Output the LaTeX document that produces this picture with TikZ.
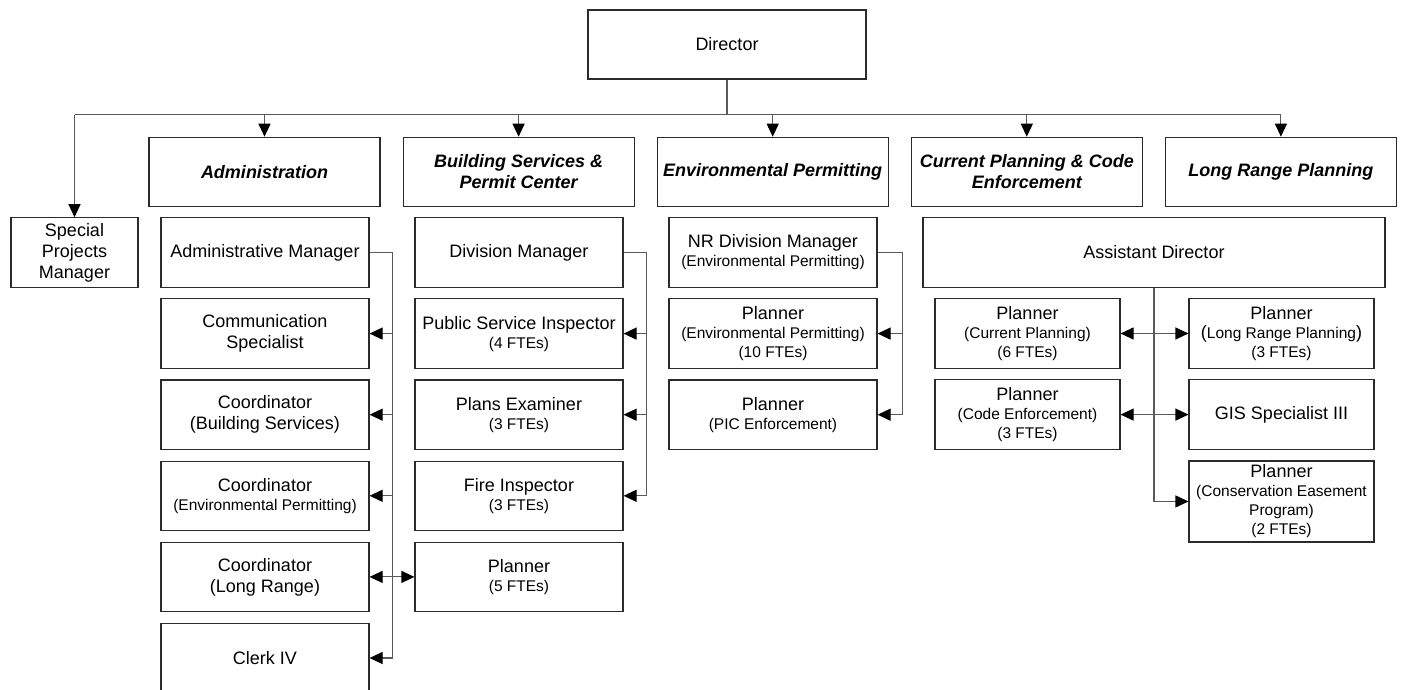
\documentclass[tikz,border=0pt]{standalone}
\usepackage{fontspec}
\setmainfont{Liberation Sans}
\usepackage{tikz}
\usetikzlibrary{arrows.meta,calc,positioning}
\definecolor{boxline}{HTML}{2B2B2B}
\definecolor{wireline}{HTML}{5A5A5A}
\newcommand{\unitfont}{\fontsize{18}{21}\selectfont}
\newcommand{\smalltxt}{\fontsize{15.5}{18}\selectfont}
\tikzset{
	org chart/.style={
		x=1pt, y=-1pt,
		node distance=10.5pt and 22pt,
		>={Triangle[length=13pt,width=12pt,color=black]}},
	unit/.style={draw=boxline, line width=1.1pt, align=center, font=\unitfont,
		inner sep=0pt, minimum width=208pt, minimum height=69.5pt},
	division/.style={unit, font=\unitfont\bfseries\itshape, minimum width=231pt},
	narrow unit/.style={unit, minimum width=185pt},
	wire/.style={draw=wireline, line width=1.1pt}
}

\begin{document}
\begin{tikzpicture}[org chart]
  \useasboundingbox (0,0) rectangle (1401,690);
  \node[unit, minimum width=278pt, minimum height=69pt] (dir) at (727,44.5) {Director};
  % divisions
  \node[division] (adm) at (264.5,172) {Administration};
  \node[division, right=of adm] (bsp) {Building Services \&\\Permit Center};
  \node[division, right=of bsp] (env) {Environmental Permitting};
  \node[division, right=of env] (cpe) {Current Planning \& Code\\Enforcement};
  \node[division, right=of cpe] (lrp) {Long Range Planning};
  \node[unit, minimum width=127pt] (spm) at (74.5,252.5) {Special\\Projects\\Manager};
  % administration
  \node[unit] (admmgr) at (265,252.5) {Administrative Manager};
  \node[unit, below=of admmgr] (comm) {Communication\\Specialist};
  \node[unit, below=of comm] (coordbs) {Coordinator\\(Building Services)};
  \node[unit, below=of coordbs] (coordenv) {Coordinator\\[-2pt]{\smalltxt (Environmental Permitting)}};
  \node[unit, below=of coordenv] (coordlr) {Coordinator\\(Long Range)};
  \node[unit, below=of coordlr] (clerk) {Clerk IV};
  % building services
  \node[unit] (divmgr) at (519,252.5) {Division Manager};
  \node[unit, below=of divmgr] (psi) {Public Service Inspector\\[-2pt]{\smalltxt (4 FTEs)}};
  \node[unit, below=of psi] (plans) {Plans Examiner\\[-2pt]{\smalltxt (3 FTEs)}};
  \node[unit, below=of plans] (fire) {Fire Inspector\\[-2pt]{\smalltxt (3 FTEs)}};
  \node[unit, below=of fire] (plan5) {Planner\\[-2pt]{\smalltxt (5 FTEs)}};
  % environmental permitting
  \node[unit] (nrmgr) at (773,252.5) {NR Division Manager\\[-2pt]{\smalltxt (Environmental Permitting)}};
  \node[unit, below=of nrmgr] (envplan) {Planner\\[-2pt]{\smalltxt (Environmental Permitting)}\\[-2pt]{\smalltxt (10 FTEs)}};
  \node[unit, below=of envplan] (pic) {Planner\\[-2pt]{\smalltxt (PIC Enforcement)}};
  % current planning and long range
  \node[unit, minimum width=462pt] (asstdir) at (1154,252.5) {Assistant Director};
  \node[narrow unit] (cpplan) at (1027.5,333.5) {Planner\\[-2pt]{\smalltxt (Current Planning)}\\[-2pt]{\smalltxt (6 FTEs)}};
  \node[narrow unit, below=of cpplan] (codeplan) {Planner\\[-2pt]{\smalltxt (Code Enforcement)}\\[-2pt]{\smalltxt (3 FTEs)}};
  \node[narrow unit] (lrplan) at (1281.5,333.5) {Planner\\[-2pt]({\smalltxt Long Range Planning})\\[-2pt]{\smalltxt (3 FTEs)}};
  \node[narrow unit, below=of lrplan] (gis) {GIS Specialist III};
  \node[narrow unit, below=of gis, minimum height=81pt] (cons) {Planner\\[-2pt]{\smalltxt (Conservation Easement}\\[-2pt]{\smalltxt Program)}\\[-2pt]{\smalltxt (2 FTEs)}};

  % director to divisions
  \draw[wire] (dir.south) -- ++(0,35) coordinate (bus);
  \draw[wire] (spm.north |- bus) -- (lrp.north |- bus);
  \foreach \d in {spm,adm,bsp,env,cpe,lrp}
    \draw[wire,->] (\d.north |- bus) -- (\d.north);

  % staff lines
  \draw[wire,->] (admmgr.east) -- ++(23,0) coordinate (admbus) |- (clerk.east);
  \foreach \n in {comm,coordbs,coordenv}
    \draw[wire,->] (admbus |- \n.east) -- (\n.east);
  \draw[wire,<->] (coordlr.east) -- (plan5.west);
  \draw[wire,->] (divmgr.east) -- ++(23,0) coordinate (bspbus) |- (fire.east);
  \foreach \n in {psi,plans}
    \draw[wire,->] (bspbus |- \n.east) -- (\n.east);
  \draw[wire,->] (nrmgr.east) -- ++(25,0) coordinate (envbus) |- (pic.east);
  \draw[wire,->] (envbus |- envplan.east) -- (envplan.east);
  \draw[wire,->] (asstdir.south) |- (cons.west);
  \draw[wire,<->] (cpplan.east) -- (lrplan.west);
  \draw[wire,<->] (codeplan.east) -- (gis.west);
\end{tikzpicture}
\end{document}
